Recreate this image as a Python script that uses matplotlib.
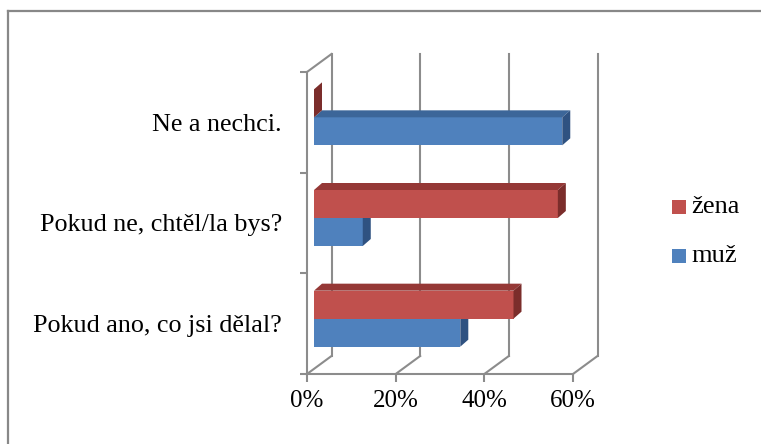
import matplotlib
matplotlib.use("Agg")
import matplotlib.pyplot as plt
from matplotlib.patches import Polygon, Rectangle
from matplotlib.lines import Line2D

categories = ["Pokud ano, co jsi dělal?", "Pokud ne, chtěl/la bys?", "Ne a nechci."]
series_names = ["muž", "žena"]
muz = [33, 11, 56]
zena = [45, 55, 0]
xticks = [0, 20, 40, 60]
xticklabels = ["0%", "20%", "40%", "60%"]

front_colors = {"muž": "#4F81BD", "žena": "#C0504D"}
top_colors = {"muž": "#3C6699", "žena": "#953836"}
side_colors = {"muž": "#2F5281", "žena": "#7B2D2B"}

plt.rcParams['font.family'] = ['Liberation Serif', 'DejaVu Serif']

W, H = 761, 444
fig = plt.figure(figsize=(W / 100, H / 100), dpi=100)
fig.patch.set_facecolor("white")

# axes at the front plane of the 3D box
ax = fig.add_axes([307 / W, 70 / H, 266 / W, 302 / H])
ax.set_xlim(0, 60)
ax.set_ylim(0, 3)
ax.patch.set_alpha(0)

pxx = 266 / 60.0
pxy = 302 / 3.0
WDX, WDY = 24.5 / pxx, 18 / pxy      # wall depth
BX0, BY0 = 7 / pxx, 5 / pxy          # bar front-plane offset
BDX, BDY = 8 / pxx, 7 / pxy          # bar depth
BH = 28 / pxy                        # bar height

grid_c = "#8C8C8C"
lw = 1.5

# back wall gridlines
for t in xticks:
    ax.add_line(Line2D([t + WDX, t + WDX], [WDY, 3 + WDY], color=grid_c, lw=lw, clip_on=False, zorder=1))
    ax.add_line(Line2D([t, t + WDX], [0, WDY], color=grid_c, lw=lw, clip_on=False, zorder=1))
# left wall top diagonal
ax.add_line(Line2D([0, WDX], [3, 3 + WDY], color=grid_c, lw=lw, clip_on=False, zorder=1))

# bars
def draw_bar(v, y0, name):
    x0 = BX0
    yb = y0 + BY0
    ax.add_patch(Rectangle((x0, yb), v, BH, facecolor=front_colors[name], edgecolor="none", zorder=3, clip_on=False))
    ax.add_patch(Polygon([(x0, yb + BH), (x0 + v, yb + BH), (x0 + v + BDX, yb + BH + BDY), (x0 + BDX, yb + BH + BDY)],
                         closed=True, facecolor=top_colors[name], edgecolor="none", zorder=3, clip_on=False))
    ax.add_patch(Polygon([(x0 + v, yb), (x0 + v + BDX, yb + BDY), (x0 + v + BDX, yb + BH + BDY), (x0 + v, yb + BH)],
                         closed=True, facecolor=side_colors[name], edgecolor="none", zorder=3, clip_on=False))

for i in range(len(categories)):
    c = i + 0.5
    draw_bar(muz[i], c - BH, "muž")
for i in range(len(categories)):
    c = i + 0.5
    draw_bar(zena[i], c, "žena")

# axes styling
for s in ["top", "right"]:
    ax.spines[s].set_visible(False)
for s in ["left", "bottom"]:
    ax.spines[s].set_color(grid_c)
    ax.spines[s].set_linewidth(lw)
    ax.spines[s].set_zorder(2)

ax.set_xticks(xticks)
ax.set_xticklabels(xticklabels, fontsize=18)
ax.tick_params(axis="x", direction="out", length=5.8, width=lw, color=grid_c, pad=5.5)
ax.set_yticks([i + 0.5 for i in range(len(categories))])
ax.set_yticklabels(categories, fontsize=18.8)
ax.set_yticks([0, 1, 2, 3], minor=True)
ax.tick_params(axis="y", which="major", length=0, pad=18)
ax.tick_params(axis="y", which="minor", direction="out", length=5.2, width=lw, color=grid_c)

# legend
legend_items = [("žena", 207), ("muž", 256)]
for name, yc in legend_items:
    fig.add_artist(Rectangle((672 / W, 1 - (yc + 7) / H), 14 / W, 14 / H, transform=fig.transFigure,
                             facecolor=front_colors[name], edgecolor="none"))
    fig.text(691 / W, 1 - yc / H, name, fontsize=19, va="center", ha="left")

# chart border (top and left visible)
fig.add_artist(Line2D([8 / W, 1], [1 - 11 / H, 1 - 11 / H], transform=fig.transFigure, color="#888888", lw=1.6))
fig.add_artist(Line2D([8 / W, 8 / W], [0, 1 - 11 / H], transform=fig.transFigure, color="#888888", lw=1.6))

fig.savefig("out.png", dpi=100, facecolor="white")
